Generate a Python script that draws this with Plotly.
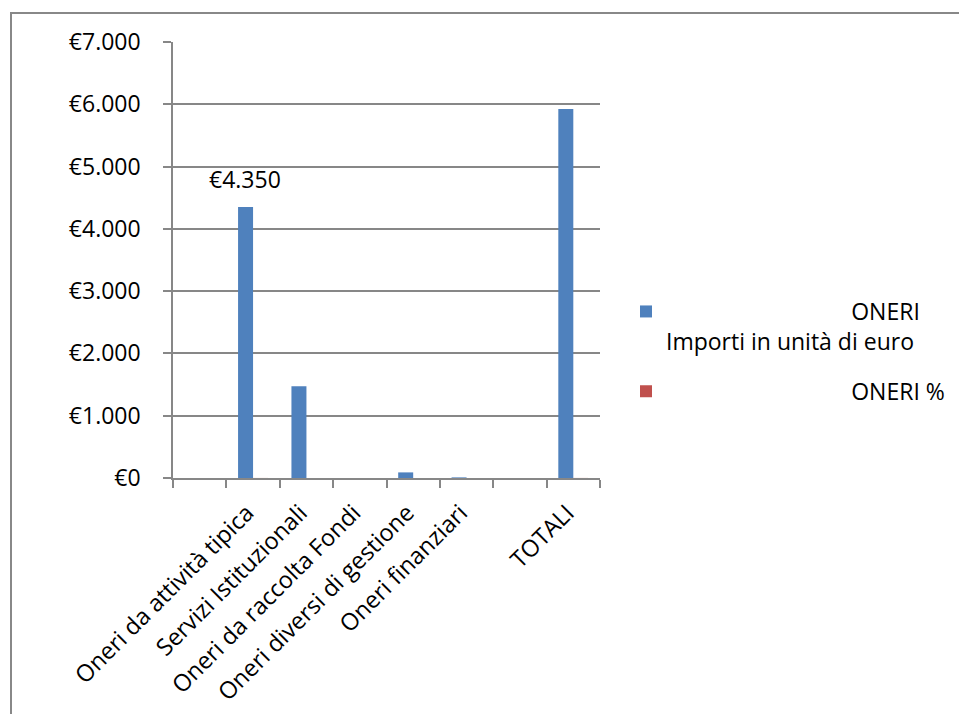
import plotly.graph_objects as go

categories = ["  ", "Oneri da attività tipica", "Servizi Istituzionali",
              "Oneri da raccolta Fondi", "Oneri diversi di gestione",
              "Oneri finanziari", "   ", "TOTALI"]
importi = [None, 4350, 1475, 0, 90, 10, None, 5925]
oneri_pct = [None, 0.734, 0.249, 0.0, 0.015, 0.002, None, 1.0]
y_ticks = [0, 1000, 2000, 3000, 4000, 5000, 6000, 7000]


def euro(v):
    return "€" + f"{v:,}".replace(",", ".")


y_ticktext = [euro(v) for v in y_ticks]

NB = "\u00a0"
name_importi = NB * 31 + "ONERI<br>Importi in unità di euro"
name_pct = NB * 31 + "ONERI %"

FONT = "Open Sans"
GRID = "#878787"

fig = go.Figure()
fig.add_trace(go.Bar(x=categories, y=importi, name=name_importi,
                     marker=dict(color="rgba(79,129,189,0.999)", line=dict(width=0)),
                     legendgroup="a"))
fig.add_trace(go.Bar(x=categories, y=oneri_pct, name=name_pct,
                     marker=dict(color="rgba(192,80,77,0.999)", line=dict(width=0)),
                     legendgroup="b"))

label_val = importi[1]
fig.add_annotation(x=categories[1], y=label_val, text=euro(label_val),
                   showarrow=False, xanchor="center", yanchor="bottom",
                   xshift=-8, yshift=11, borderpad=0,
                   font=dict(family=FONT, size=23, color="#000"))

fig.add_shape(type="path", xref="paper", yref="paper",
              path="M 1.9,1.0665 L -0.3794,1.0665 L -0.3794,-0.6",
              line=dict(color="#888888", width=2))

fig.update_layout(
    width=959, height=714,
    margin=dict(l=173, r=359, t=42, b=236, autoexpand=False),
    paper_bgcolor="white", plot_bgcolor="white",
    separators=",.",
    barmode="group", bargap=0.438, bargroupgap=0,
    font=dict(family=FONT, size=23, color="#000"),
    showlegend=True,
    legend=dict(x=(626 - 173) / 427, y=(478 - 290) / 436,
                xanchor="left", yanchor="top",
                valign="top", tracegroupgap=17,
                font=dict(family=FONT, size=23, color="#000"),
                bgcolor="rgba(0,0,0,0)"),
    xaxis=dict(type="category", categoryorder="array", categoryarray=categories,
               automargin=False,
               showline=True, linecolor=GRID, linewidth=1.5,
               ticks="outside", ticklen=8, tickcolor=GRID, tickwidth=1.5,
               tickson="boundaries", tickangle=-45, showgrid=False,
               ticklabelstandoff=10, ticklabelshift=-6,
               tickfont=dict(family=FONT, size=23.5, color="#000")),
    yaxis=dict(range=[0, 7000], tickmode="array", tickvals=y_ticks,
               ticktext=y_ticktext, automargin=False,
               showline=True, linecolor=GRID, linewidth=1.5,
               ticks="outside", ticklen=8, tickcolor=GRID, tickwidth=1.5,
               showgrid=True, gridcolor=GRID, gridwidth=1.5,
               zeroline=False, ticklabelstandoff=18,
               tickfont=dict(family=FONT, size=23, color="#000")),
)

fig.write_html("out.html")
